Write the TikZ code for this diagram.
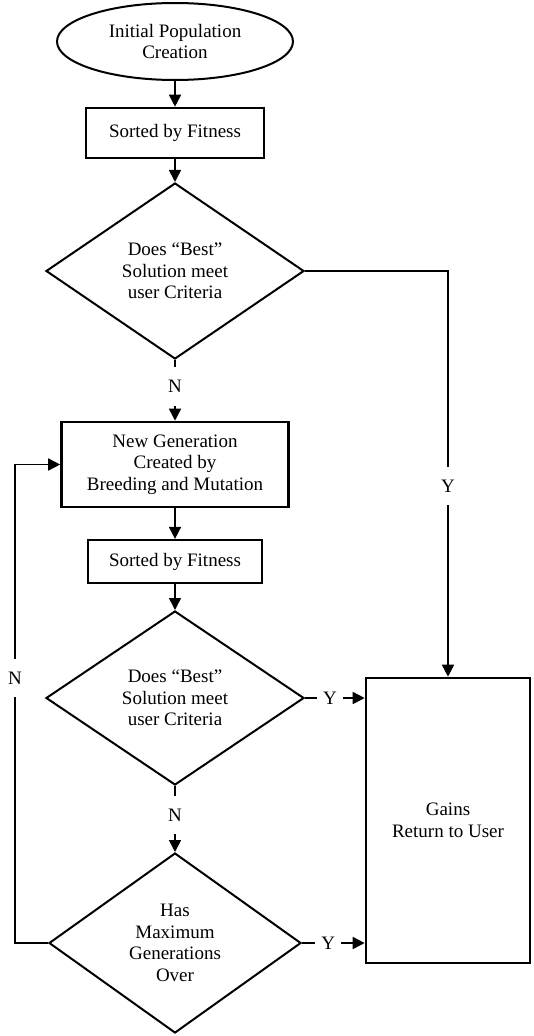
\documentclass[tikz,border=0pt]{standalone}
\usepackage{fontspec}
\setmainfont{Liberation Serif}
\usetikzlibrary{shapes.geometric,arrows.meta}
\begin{document}
\begin{tikzpicture}[x=1pt,y=-1pt,
  every node/.style={font=\fontsize{19}{21.5}\selectfont, align=center, inner sep=0pt},
  ell/.style={ellipse, draw, line width=2pt, minimum width=236, minimum height=77},
  boxthick/.style={rectangle, draw, line width=2.6pt},
  boxthin/.style={rectangle, draw, line width=2.2pt},
  dia/.style={diamond, draw, line width=2pt},
  arr/.style={line width=1.6pt, -{Triangle[length=12pt,width=12pt]}},
  lblv/.style={fill=white, inner xsep=2pt, inner ysep=13pt},
  lblh/.style={fill=white, inner xsep=6pt, inner ysep=2pt}]
\useasboundingbox (0,0) rectangle (534,1036);

\node[ell] (start) at (175,41.5) {Initial Population\\Creation};
\node[boxthick, minimum width=178, minimum height=50] (s1) at (175,133) {Sorted by Fitness};
\node[dia, minimum width=258, minimum height=176] (d1) at (175,271) {Does “Best”\\Solution meet\\user Criteria};
\node[boxthick, minimum width=227, minimum height=85] (gen) at (175,464.5) {New Generation\\Created by\\Breeding and Mutation};
\node[boxthin, minimum width=174, minimum height=43] (s2) at (175,561.5) {Sorted by Fitness};
\node[dia, minimum width=258, minimum height=174] (d2) at (175,698) {Does “Best”\\Solution meet\\user Criteria};
\node[dia, minimum width=252, minimum height=180] (d3) at (175,943) {Has\\Maximum\\Generations\\Over};
\node[boxthick, minimum width=164, minimum height=285] (gains) at (448,820.5) {Gains\\Return to User};

\draw[arr] (start) -- (s1);
\draw[arr] (s1) -- (d1);
\draw[arr] (d1.south) -- node[lblv, pos=0.44] {N} (gen.north);
\draw[arr] (gen) -- (s2);
\draw[arr] (s2) -- (d2);
\draw[arr] (d2.south) -- node[lblv, pos=0.44] {N} (d3.north);

\coordinate (c1) at (d1.east -| gains.north);
\draw[arr] (d1.east) -- (c1) -- node[lblv, pos=0.53] {Y} (gains.north);
\draw[arr] (d2.east) -- node[lblh, pos=0.42] {Y} (d2.east -| gains.west);
\draw[arr] (d3.east) -- node[lblh, pos=0.42] {Y} (d3.east -| gains.west);

\coordinate (c2) at ([xshift=-33pt]d3.west);
\draw[arr] (d3.west) -- (c2) |- node[lblv, pos=0.277] {N} (gen.west);
\end{tikzpicture}
\end{document}
